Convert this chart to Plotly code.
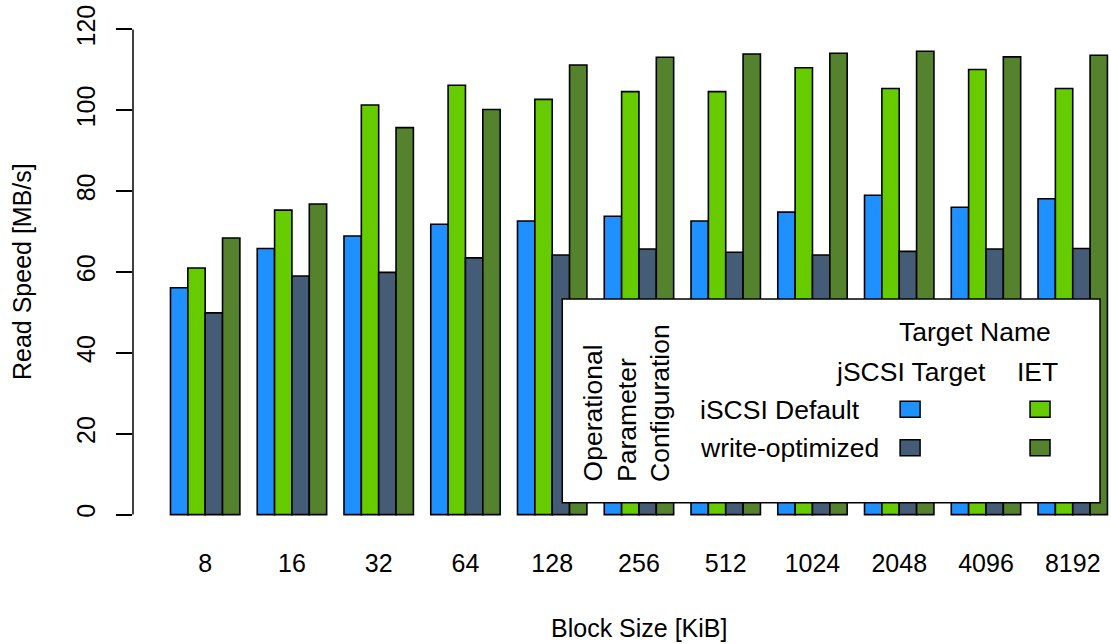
import plotly.graph_objects as go

block_sizes = ["8", "16", "32", "64", "128", "256", "512", "1024", "2048", "4096", "8192"]
jscsi_default = [56.1, 65.8, 68.9, 71.8, 72.6, 73.8, 72.6, 74.8, 79.0, 76.0, 78.1]
iet_default = [61.0, 75.3, 101.3, 106.2, 102.7, 104.6, 104.6, 110.5, 105.4, 110.1, 105.4]
jscsi_writeopt = [49.9, 59.0, 59.9, 63.5, 64.2, 65.7, 64.9, 64.2, 65.1, 65.7, 65.8]
iet_writeopt = [68.4, 76.8, 95.7, 100.2, 111.2, 113.1, 113.9, 114.1, 114.6, 113.2, 113.6]
y_ticks = [0, 20, 40, 60, 80, 100, 120]

C_BLUE = "#1E90FF"
C_LGREEN = "#66CC00"
C_SLATE = "#445C75"
C_DGREEN = "#55832D"

FONT = "Liberation Sans, Arial, sans-serif"
FS = 25
FS_LEG = 26.5

W, H = 1111, 644
# plot area in window pixels
L, R_, T, B = 132.5, 1111.0, 9.6, 534.4


def px(xp):
    return (xp - L) / (R_ - L)


def py(yp):
    return (B - yp) / (B - T)


fig = go.Figure()
series = [
    ("jSCSI Target / iSCSI Default", jscsi_default, C_BLUE),
    ("IET / iSCSI Default", iet_default, C_LGREEN),
    ("jSCSI Target / write-optimized", jscsi_writeopt, C_SLATE),
    ("IET / write-optimized", iet_writeopt, C_DGREEN),
]
for name, vals, col in series:
    fig.add_trace(go.Bar(
        x=block_sizes, y=vals, name=name,
        marker=dict(color=col, line=dict(color="black", width=1.6)),
        showlegend=False,
    ))

shapes = []
shapes.append(dict(type="line", xref="paper", yref="y", x0=0, x1=0, y0=0, y1=120,
                   line=dict(color="black", width=1.5)))
shapes.append(dict(type="rect", xref="paper", yref="paper", layer="above",
                   x0=px(562), x1=px(1100), y0=py(503), y1=py(299),
                   fillcolor="white", line=dict(color="black", width=1.5)))
for cx, cy, col in [(910, 409.5, C_BLUE), (1040, 409.5, C_LGREEN),
                    (910, 448, C_SLATE), (1040, 448, C_DGREEN)]:
    shapes.append(dict(type="rect", xref="paper", yref="paper", layer="above",
                       x0=px(cx - 10), x1=px(cx + 10), y0=py(cy + 8), y1=py(cy - 8),
                       fillcolor=col, line=dict(color="black", width=1.5)))

ann = []


def text(t, x, y, xa="center", ya="middle", angle=0, size=FS_LEG):
    ann.append(dict(text=t, xref="paper", yref="paper", x=px(x), y=py(y),
                    xanchor=xa, yanchor=ya, showarrow=False, textangle=angle,
                    font=dict(family=FONT, size=size, color="black")))


text("Target Name", 975, 332)
text("jSCSI Target", 911, 372)
text("IET", 1037, 372)
text("iSCSI Default", 698, 410, xa="left")
text("write-optimized", 698, 448, xa="left")
text("Operational", 593, 484, ya="bottom", angle=-90)
text("Parameter", 626, 484, ya="bottom", angle=-90)
text("Configuration", 659, 484, ya="bottom", angle=-90)
text("Block Size [KiB]", 638.7, 629, size=FS)
text("Read Speed [MB/s]", 21.5, 272, angle=-90, size=FS)

fig.update_layout(
    width=W, height=H,
    margin=dict(l=L, r=0, t=T, b=H - B, pad=0, autoexpand=False),
    paper_bgcolor="white", plot_bgcolor="white",
    barmode="group", bargap=0.2, bargroupgap=0,
    font=dict(family=FONT, size=FS, color="black"),
    shapes=shapes, annotations=ann,
    xaxis=dict(type="category", range=[-0.832, 10.441], showline=False, showgrid=False,
               zeroline=False, ticks="", ticklabelstandoff=12, automargin=False,
               tickfont=dict(family=FONT, size=FS, color="black")),
    yaxis=dict(range=[-4.8, 124.8], tickvals=y_ticks, ticktext=[str(v) for v in y_ticks],
               showline=False, showgrid=False, zeroline=False, automargin=False,
               ticks="outside", ticklen=16, tickwidth=1.5, tickcolor="black",
               tickangle=-90, ticklabelstandoff=11, ticklabeloverflow="allow",
               tickfont=dict(family=FONT, size=FS, color="black")),
)

fig.write_html("out.html",
               config={"displayModeBar": False},
               post_script="document.body.style.margin='0';document.body.style.overflow='hidden';")
